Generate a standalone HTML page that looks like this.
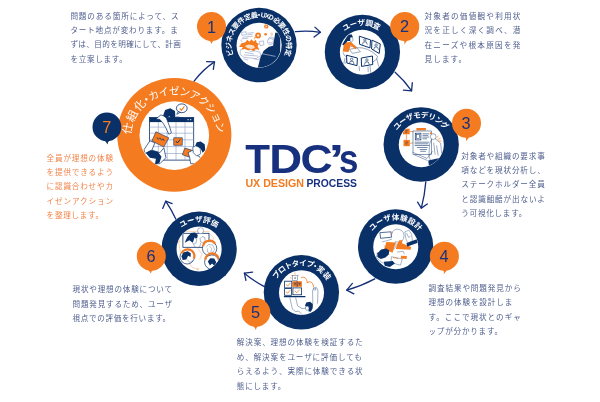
<!DOCTYPE html>
<html lang="ja"><head><meta charset="utf-8"><title>TDC's UX DESIGN PROCESS</title>
<style>html,body{margin:0;padding:0;background:#fff}body{width:600px;height:402px;overflow:hidden}svg{display:block;will-change:transform}text{font-family:"Liberation Sans", "Noto Sans CJK JP", sans-serif}</style></head><body>
<svg width="600" height="402" viewBox="0 0 600 402">
<rect width="600" height="402" fill="#fff"/>
<g fill="none" stroke="#142f78" stroke-width="1.3" stroke-linecap="round" stroke-linejoin="round">
<path d="M193.9,81.3 Q203.0,69.5 214.5,61.9"/>
<path d="M206.6,61.6 L214.5,61.9 L213.3,69.4"/>
<path d="M295.4,31.6 Q308.0,30.2 320.4,32.3"/>
<path d="M314.9,27.1 L320.4,32.3 L314.1,37.1"/>
<path d="M395.1,72.2 Q404.5,80.5 411.6,90.8"/>
<path d="M403.4,90.1 L411.6,90.8 L412.3,82.6"/>
<path d="M425.8,181.9 Q424.8,195.0 421.3,208.1"/>
<path d="M417.6,202.1 L421.3,208.1 L427.3,204.0"/>
<path d="M374.8,278.9 Q361.5,286.0 346.7,290.1"/>
<path d="M352.4,283.4 L346.7,290.1 L353.9,293.8"/>
<path d="M265.3,287.1 Q254.0,281.5 244.4,273.2"/>
<path d="M252.6,272.2 L244.4,273.2 L245.9,280.4"/>
<path d="M175.8,219.1 Q171.5,209.8 165.7,201.2"/>
<path d="M162.7,208.4 L165.7,201.2 L172.1,203.6"/>
</g>
<ellipse cx="259.0" cy="45.1" rx="37.65" ry="37.25" fill="#0a3068"/>
<ellipse cx="259.1" cy="45.3" rx="22.55" ry="22.45" fill="#fff"/>
<ellipse cx="362.4" cy="52.1" rx="37.65" ry="37.25" fill="#0a3068"/>
<ellipse cx="362.4" cy="52.2" rx="22.55" ry="22.45" fill="#fff"/>
<ellipse cx="421.2" cy="144.5" rx="37.65" ry="37.25" fill="#0a3068"/>
<ellipse cx="421.3" cy="144.7" rx="22.55" ry="22.45" fill="#fff"/>
<ellipse cx="395.65" cy="246.6" rx="37.65" ry="37.25" fill="#0a3068"/>
<ellipse cx="395.75" cy="246.8" rx="22.55" ry="22.45" fill="#fff"/>
<ellipse cx="301.4" cy="292.3" rx="37.65" ry="37.25" fill="#0a3068"/>
<ellipse cx="301.5" cy="292.6" rx="22.55" ry="22.45" fill="#fff"/>
<ellipse cx="199.1" cy="248.8" rx="37.65" ry="37.25" fill="#0a3068"/>
<ellipse cx="199.1" cy="249.0" rx="22.55" ry="22.45" fill="#fff"/>
<ellipse cx="174.3" cy="134.85" rx="57.1" ry="56.95" fill="#f47b20"/>
<ellipse cx="174.3" cy="135.6" rx="34.8" ry="34.3" fill="#fff"/>
<defs>
<clipPath id="cl1"><circle cx="259.1" cy="45.3" r="22.2"/></clipPath>
<clipPath id="cl2"><circle cx="362.4" cy="52.2" r="22.2"/></clipPath>
<clipPath id="cl3"><circle cx="421.3" cy="144.7" r="22.2"/></clipPath>
<clipPath id="cl4"><circle cx="395.75" cy="246.8" r="22.2"/></clipPath>
<clipPath id="cl5"><circle cx="301.5" cy="292.6" r="22.2"/></clipPath>
<clipPath id="cl6"><circle cx="199.1" cy="249.0" r="22.2"/></clipPath>
<clipPath id="cl7"><circle cx="174.3" cy="135.6" r="34.2"/></clipPath>
</defs>
<g clip-path="url(#cl1)">
<g fill="none" stroke="#8c9cc6" stroke-width="0.6">
<path d="M241.5,32.5 L246.0,31.7 L246.4,34.6 L241.9,35.3Z"/>
<path d="M247.3,33.3 L253.8,32.6 M247.3,34.9 L252.7,34.2 M242.4,37.3 L252.7,36.2 M241.5,38.9 L248.2,38.2 M240.4,39.8 L242.4,42.0"/>
<path d="M240.4,49.9 L243.2,47.9 L247.6,49.0 L250.4,51.6 L254.9,50.8 L260.0,52.3 L260.7,55.7 L256.0,58.6 L249.3,57.9 L243.7,57.2 L240.1,54.4Z"/>
<path d="M244.8,52.3 L253.8,54.1 M243.9,54.9 L257.7,56.0 M253.8,58.6 L258.8,60.0 L260.1,57.9 M243.7,58.8 L248.2,60.0"/>
<path d="M259.4,41.5 L263.4,40.9 L263.9,44.9 L260.1,45.6Z"/>
<circle cx="270.6" cy="41.5" r="3.1" fill="#fff"/>
<path d="M268.1,39.2 L270.0,37.0 L273.4,37.8 L274.2,40.9 M268.9,42.0 L271.2,43.2 L272.6,41.5"/>
</g>
<path d="M257.7,68.0 L260.7,56.6 L263.7,50.8 L268.9,46.7 L273.1,45.7 L275.3,32.6 L280.4,33.5 L280.2,51.0 L278.9,60.0 L276.4,68.0Z" fill="#0a3068"/>
<path d="M261.1,53.5 L275.6,56.4" stroke="#fff" stroke-width="0.5" fill="none"/>
<path d="M239.0,47.1 L241.5,43.2 L245.4,42.3 L247.3,39.8 L249.5,41.8 L251.3,39.3 L253.6,41.5 L256.0,39.8 L256.7,42.9 L258.9,43.4 L257.6,46.3 L259.4,49.9 L255.8,49.0 L253.8,51.2 L250.7,49.4 L247.8,50.3 L244.8,49.0 L241.5,49.7 L242.8,47.0Z" fill="#f47b20"/>
<path d="M244.8,46.0 L248.8,44.5 L253.8,45.4 L254.9,47.9 L251.6,49.0 L247.6,48.3Z" fill="#fde0c8"/>
<path d="M255.8,37.6 L253.8,39.8 L254.9,36.2Z" fill="#f47b20"/>
<circle cx="258.1" cy="35.5" r="2.9" fill="#f47b20"/><circle cx="258.1" cy="35.5" r="1.2" fill="#fde0c8"/>
<circle cx="266.3" cy="26.4" r="2.2" fill="#f47b20"/><circle cx="266.3" cy="26.4" r="0.9" fill="#fde0c8"/>
<circle cx="265.6" cy="34.2" r="1.3" fill="#f47b20"/>
<path d="M271.9,32.5 L272.4,35.3 M270.6,33.3 L271.5,35.5" stroke="#f47b20" stroke-width="0.5" fill="none"/>
</g>
<g clip-path="url(#cl2)">
<g fill="none" stroke="#0a3068" stroke-width="0.55" stroke-opacity="0.75">
<path d="M356.8,47.7 Q368.0,46.8 377.5,56.3 Q378.1,59.3 373.0,61.9"/>
<path d="M343.1,52.4 Q343.9,56.3 346.7,56.9"/>
<path d="M345.0,58.0 L343.7,64.2 M346.7,59.3 L345.6,63.6 M370.0,65.8 L370.8,73.1 M368.0,66.4 L368.2,72.0 M376.7,58.6 L378.7,66.4 M359.0,65.8 L359.6,70.9"/>
<path d="M349.5,49.3 L356.8,47.9 L360.4,51.8 L352.3,53.3Z"/>
<path d="M350.6,46.8 L355.1,45.7 L356.8,47.9"/>
</g>
<path d="M346.7,36.9 L348.7,34.5 L351.9,34.5 L352.8,37.2 L350.5,37.6 L349.9,41.0 L347.4,41.0 L344.7,45.9 L342.2,44.6 L344.9,40.1Z" fill="#0a3068"/>
<path d="M350.3,37.4 L352.5,37.2 L353.0,40.3 L351.6,42.1 L350.1,41.2Z" fill="#fff" stroke="#0a3068" stroke-width="0.4"/>
<path d="M342.7,51.5 L343.8,44.8 L346.7,42.3 L351.2,42.1 L357.0,47.9 L355.2,49.3 L350.8,45.2 L348.5,51.9Z" fill="#f47b20"/>
<g fill="#fff" stroke="#0a3068" stroke-width="1.0" stroke-linejoin="round">
<path d="M359.3,36.2 L370.5,39.9 L370.0,47.9 L359.6,44.3Z"/>
<path d="M371.9,40.1 L380.3,44.0 L379.2,53.5 L371.6,49.0Z"/>
<path d="M346.5,55.2 L357.4,58.0 L357.0,65.6 L346.9,63.0Z"/>
<path d="M361.3,58.0 L372.5,56.0 L372.7,64.5 L361.5,66.4Z"/>
</g>
<g fill="none" stroke="#0a3068" stroke-width="0.6">
<circle cx="364.9" cy="39.9" r="1.2"/>
<path d="M362.4,44.6 L363.4,41.9 L366.3,41.9 L367.3,44.6"/>
<circle cx="376.1" cy="45.1" r="1.2"/>
<path d="M373.6,49.8 L374.6,47.1 L377.5,47.1 L378.5,49.8"/>
<circle cx="351.6" cy="59.3" r="1.2"/>
<path d="M349.2,64.0 L350.2,61.4 L353.1,61.4 L354.1,64.0"/>
<circle cx="366.9" cy="60.0" r="1.2"/>
<path d="M364.4,64.7 L365.4,62.0 L368.3,62.0 L369.3,64.7"/>
</g>
</g>
<g clip-path="url(#cl3)">
<rect x="403.0" y="128.7" width="6.7" height="5.6" fill="#f47b20"/><rect x="403.5" y="139.9" width="6.3" height="6.3" fill="#f47b20"/><rect x="416.4" y="128.0" width="9.5" height="2.4" fill="#f47b20"/>
<path d="M406.4,134.3 L406.4,139.9 M409.8,131.5 L413.3,131.5 L413.3,133.2 M409.8,143.1 L413.0,143.1" stroke="#f47b20" stroke-width="0.7" fill="none"/>
<path d="M405.2,130.7 L407.7,130.7 M405.2,132.3 L407.1,132.3 M405.3,142.2 L408.0,142.2 M405.3,143.9 L407.5,143.9" stroke="#0a3068" stroke-width="0.5" fill="none"/>
<rect x="413.0" y="131.0" width="18.3" height="23.3" fill="#fff" stroke="#0a3068" stroke-width="0.6" stroke-opacity="0.8"/>
<rect x="415.3" y="133.2" width="5.6" height="6.7" fill="none" stroke="#0a3068" stroke-width="0.7"/>
<rect x="416.7" y="134.5" width="2.9" height="4.0" fill="none" stroke="#0a3068" stroke-width="0.5"/>
<g fill="none" stroke="#0a3068" stroke-width="0.7" stroke-opacity="0.8">
<path d="M422.5,133.8 L429.2,133.8 M422.5,135.4 L428.3,135.4 M422.5,137.1 L429.2,137.1 M422.5,138.8 L427.0,138.8 M414.7,142.2 L429.2,142.2 M414.7,143.8 L428.3,143.8 M414.7,145.5 L429.2,145.5 M416.9,147.5 L427.6,147.5 M419.7,149.5 L427.0,149.5 M420.3,151.3 L425.9,151.3"/>
</g>
<g fill="none" stroke="#0a3068" stroke-width="0.55" stroke-opacity="0.75">
<circle cx="433.2" cy="136.6" r="2.9" fill="#fff"/>
<path d="M431.5,139.4 L429.5,144.4 L429.0,155.6 L430.4,160.6 M435.4,138.8 L440.7,143.3 L441.8,155.6 L440.4,160.6 M412.4,152.2 L427.0,158.4 L432.6,151.3 M414.1,154.7 L427.6,160.6 M433.7,142.7 L435.1,154.5 M436.5,145.5 L438.2,155.6"/>
</g>
<path d="M428.3,160.6 L439.5,158.1 L441.6,167.0 L429.0,167.0Z" fill="#0a3068"/>
<path d="M430.4,131.9 L432.4,133.9 L429.7,134.3Z" fill="#f47b20"/>
<path d="M436.5,137.7 L438.4,136.0 M437.6,139.4 L440.7,138.2 M438.2,141.0 L441.6,141.0" stroke="#f47b20" stroke-width="0.6" fill="none"/>
</g>
<g clip-path="url(#cl4)">
<g fill="none" stroke="#0a3068" stroke-width="0.5" stroke-opacity="0.7">
<path d="M391.5,234.6 q2,-7 8,-5 q6,2 4,9 q-2,5 -8,3 q2,6 -3,8 q-6,1 -8,-4"/>
<path d="M404.9,231.8 L408.8,230.2 L411.6,234.1 L412.4,240.8 L407.7,243.0 L405.7,238.0Z"/>
<path d="M406.6,233.0 L408.6,237.4 L410.5,236.3"/>
<path d="M391.5,256.7 L402.3,258.9 L400.4,265.2 L390.9,262.6Z"/>
<path d="M377.5,252.0 L376.4,257.6 L382.0,262.6 L387.6,264.3 M382.0,241.9 L386.4,240.8 L392.0,239.1 M397.1,252.0 L403.2,251.4 L404.4,254.2"/>
</g>
<path d="M379.9,232.7 L390.9,231.8 L391.5,237.2 L380.6,238.3Z" fill="#fff" stroke="#0a3068" stroke-width="0.7" stroke-linejoin="round"/>
<circle cx="392.0" cy="232.1" r="0.7" fill="#f47b20"/>
<path d="M386.4,242.1 L395.8,242.4 L392.5,252.7 L384.2,248.9Z" fill="#f47b20"/>
<path d="M399.3,240.2 L402.6,240.2 L401.9,243.3 L411.1,247.1 L410.6,249.8 L395.8,248.9 L397.0,244.4Z" fill="#f47b20"/>
<path d="M401.0,255.8 L406.8,256.1 L406.6,258.9 L400.8,258.5Z" fill="#f47b20"/>
<path d="M392.9,257.6 L398.2,258.5" stroke="#f47b20" stroke-width="0.7" fill="none"/>
<path d="M377.5,253.3 L381.1,249.5 L386.2,248.4 L389.3,250.4 L388.7,254.5 L385.5,257.6 L380.8,258.9 L377.3,257.1Z" fill="#0a3068"/>
<path d="M406.4,243.3 L418.0,238.8 L418.0,242.8 L407.3,246.4Z" fill="#0a3068"/>
<path d="M383.8,261.8 L392.7,261.0 L394.9,263.4 L389.8,267.0 L384.6,265.7Z" fill="#0a3068"/>
</g>
<g clip-path="url(#cl5)">
<g fill="none" stroke="#0a3068" stroke-width="0.55" stroke-opacity="0.7">
<rect x="292.7" y="275.6" width="4.9" height="4.9"/>
<path d="M294.0,278.1 L296.2,278.1 M295.1,276.9 L295.1,279.2"/>
<path d="M289.8,297.5 L292.4,309.2 L295.8,311.7 L298.7,311.0 M295.6,297.5 L297.6,305.8 L302.0,308.6 M312.8,303.6 L312.6,290.7 L313.7,287.9 L316.6,287.7 L318.0,290.7 L317.5,303.6 M313.9,287.9 L314.2,290.7 M315.5,287.7 L315.7,290.6 M298.7,311.0 L302.5,315.0 M302.0,308.6 L305.9,308.1 M312.6,303.6 L312.1,308.1"/>
</g>
<rect x="292.4" y="281.2" width="9.5" height="5.6" fill="#f47b20"/>
<path d="M293.8,283.2 L296.0,283.2 M298.3,283.2 L300.7,283.2 M294.5,284.8 L295.6,284.8 M298.9,284.8 L300.3,284.8 M297.1,281.2 L297.1,286.8" stroke="#0a3068" stroke-width="0.7" fill="none"/>
<g fill="none" stroke="#0a3068" stroke-width="0.8">
<rect x="284.6" y="281.2" width="7.2" height="6.7"/><rect x="284.6" y="288.6" width="6.9" height="6.7"/><rect x="292.9" y="287.9" width="8.7" height="6.9"/>
<path d="M283.9,296.7 L305.4,296.7" stroke-width="1.2"/>
</g>
<g fill="none" stroke="#f47b20" stroke-width="0.8">
<path d="M286.2,284.3 L287.7,286.1 L290.4,283.0 M285.9,291.5 L287.5,293.3 L290.2,290.2 M294.7,290.8 L296.7,292.8 L299.8,289.5"/>
<path d="M300.9,277.8 q5.5,-2.5 6.5,5"/>
<path d="M306.8,282.8 q5.5,-3.5 7,4.5"/>
<path d="M291.1,274.7 L292.2,276.0 M294.9,272.5 L294.9,274.5 M298.9,274.7 L297.8,276.0 M290.2,277.8 L291.8,278.1" stroke-width="0.6"/>
</g>
<path d="M305.0,305.6 L306.3,302.5 L310.1,301.8 L312.8,304.0 L312.6,308.6 L310.8,311.7 L308.3,311.2 L309.2,307.6 L306.8,307.2Z" fill="#0a3068"/>
<path d="M305.7,306.4 L308.3,306.1 L309.0,309.2 L307.0,310.5 L305.4,309.2Z" fill="#fff" stroke="#0a3068" stroke-width="0.4"/>
</g>
<g clip-path="url(#cl6)">
<g fill="none" stroke="#f9b98a" stroke-width="0.6">
<path d="M178.2,240.6 L180.5,251.8 L191.7,266.9 L198.4,269.7 M209.6,233.8 L213.5,237.8 L212.1,241.7 M197.8,248.4 L202.0,254.0 L199.7,259.6 M184.4,231.4 L209.6,231.4"/>
<circle cx="197.8" cy="269.1" r="0.9"/><circle cx="179.4" cy="241.1" r="0.7"/>
</g>
<rect x="182.9" y="233.3" width="26.1" height="14.0" fill="#fff" stroke="#0a3068" stroke-width="0.8"/>
<circle cx="200.6" cy="230.7" r="3.0" fill="#fff" stroke="#0a3068" stroke-width="0.5" stroke-opacity="0.7"/>
<path d="M184.7,242.8 L187.2,237.2 L191.1,232.9 L195.0,232.5 L197.8,235.0 L197.1,238.5 L194.5,237.6 L192.8,242.8 L189.4,240.3Z" fill="#0a3068"/>
<g fill="none" stroke="#0a3068" stroke-width="0.5" stroke-opacity="0.7">
<path d="M192.8,242.8 L195.0,247.1 M194.5,237.6 L196.7,239.4 L196.2,242.8 L193.9,243.9 M200.1,238.5 L202.0,236.6 L204.9,237.4 L205.1,241.1 L202.7,242.8 L200.6,241.7Z M200.9,242.8 L199.5,247.1 M204.6,242.8 L206.2,247.1"/>
</g>
<circle cx="187.2" cy="256.8" r="7.2" fill="#fff" stroke="#0a3068" stroke-width="0.7"/>
<circle cx="209.6" cy="248.4" r="7.2" fill="#fff" stroke="#0a3068" stroke-width="0.7"/>
<circle cx="211.8" cy="262.1" r="7.2" fill="#fff" stroke="#0a3068" stroke-width="0.7"/>
<g fill="none" stroke="#f47b20" stroke-width="2.2">
<path d="M181.6,253.4 A6.5,6.5 0 0 1 193.9,258.5"/>
<path d="M203.1,246.2 A6.5,6.5 0 0 1 215.2,243.9"/>
<path d="M205.3,259.6 A6.5,6.5 0 0 1 218.8,260.7"/>
</g>
<path d="M181.4,256.2 L183.4,252.4 L187.6,251.3 L190.8,253.3 L190.6,257.1 L188.1,255.8 L186.3,259.6 L182.7,260.0Z" fill="#0a3068"/>
<path d="M207.8,261.6 L210.3,258.3 L214.3,258.5 L216.3,262.5 L214.5,266.1 L212.1,263.4 L210.0,265.4Z" fill="#0a3068"/>
<g fill="none" stroke="#0a3068" stroke-width="0.5" stroke-opacity="0.6">
<path d="M206.0,247.3 L208.5,244.5 L212.7,245.0 L214.7,249.3 L212.5,252.7 M207.8,248.4 L207.1,251.5 L209.6,252.9 M209.6,246.2 L211.6,248.4 L210.9,252.0 M187.2,259.6 L189.7,262.5 L192.8,260.5"/>
</g>
</g>
<g clip-path="url(#cl7)">
<rect x="149.5" y="117.5" width="44.2" height="42.6" fill="#fff" stroke="#0a3068" stroke-width="0.8"/>
<rect x="149.5" y="117.5" width="44.2" height="4.6" fill="#0a3068"/>
<circle cx="188.1" cy="119.7" r="0.6" fill="#fff"/><circle cx="190.7" cy="119.7" r="0.6" fill="#fff"/>
<g fill="none" stroke="#8c9cc6" stroke-width="0.6">
<path d="M149.5,127.1 L193.7,127.1 M149.5,133.2 L193.7,133.2 M149.5,139.8 L193.7,139.8 M149.5,146.6 L193.7,146.6 M149.5,153.5 L193.7,153.5 M158.3,122.1 L158.3,160.1 M167.2,122.1 L167.2,160.1 M176.0,122.1 L176.0,160.1 M185.0,122.1 L185.0,160.1"/>
</g>
<ellipse cx="181.8" cy="108.3" rx="5.4" ry="4.4" fill="#fff" stroke="#0a3068" stroke-width="0.8"/>
<path d="M178.2,111.5 L176.8,114.3 L180.2,112.3Z" fill="#fff" stroke="#0a3068" stroke-width="0.7"/>
<path d="M179.8,108.3 L181.4,110.3 L184.4,106.4" fill="none" stroke="#f47b20" stroke-width="1.1"/>
<path d="M155.9,118.9 L160.9,114.9 L165.9,116.9 L169.4,125.9 L171.4,132.8 L168.8,134.2 L165.9,127.9 L162.9,122.9 L159.9,119.5Z" fill="#fff" stroke="#0a3068" stroke-width="0.7"/>
<path d="M163.1,115.5 L165.1,109.9 L170.2,108.3 L175.0,111.1 L175.4,117.5 L171.8,118.7 L169.4,116.3 L166.2,118.3Z" fill="#0a3068"/>
<path d="M172.8,119.9 L176.8,116.9 L182.8,117.9 L184.8,121.9" fill="none" stroke="#0a3068" stroke-width="0.7"/>
<path d="M155.9,131.8 L168.8,137.8 L163.9,147.0 L151.9,141.0Z" fill="#f47b20" stroke="#0a3068" stroke-width="0.6"/>
<path d="M156.9,137.4 L158.3,139.4 L159.9,137.8 L161.5,140.2 L163.1,138.8 L164.3,141.0" fill="none" stroke="#0a3068" stroke-width="0.7"/>
<rect x="173.8" y="137.8" width="8.4" height="7.4" fill="#f47b20" stroke="#0a3068" stroke-width="0.6"/>
<path d="M175.8,141.0 L177.4,143.0 L180.2,139.4" fill="none" stroke="#0a3068" stroke-width="0.9"/>
<path d="M184.8,148.1 L191.7,150.1 L189.7,157.3 L182.4,154.7Z" fill="#f47b20" stroke="#0a3068" stroke-width="0.6"/>
<path d="M144.0,149.7 L149.9,140.8 L154.9,142.8 L151.9,150.1 L159.9,152.7 L163.9,147.8 L165.9,157.7 L159.9,163.7 L147.9,163.7Z" fill="#fff" stroke="#0a3068" stroke-width="0.7"/>
<path d="M145.6,152.7 L150.9,150.1 L157.9,151.7 L161.5,156.7 L159.5,162.7 L154.9,164.7 L155.9,158.7 L149.9,157.7Z" fill="#0a3068"/>
<path d="M188.1,152.7 L192.7,150.1 L195.7,154.7 L199.7,156.7 L202.7,163.7 L190.7,163.7 L189.7,157.7Z" fill="#fff" stroke="#0a3068" stroke-width="0.7"/>
<path d="M192.7,147.4 L195.7,145.8 L200.1,147.8 L200.7,153.7 L196.7,156.1 L193.3,152.7Z" fill="#fff" stroke="#0a3068" stroke-width="0.6"/>
<path d="M195.3,145.8 L196.7,142.2 L200.7,141.4 L204.7,144.2 L205.3,150.1 L202.7,152.7 L200.7,148.7 L198.1,146.8Z" fill="#0a3068"/>
</g>
<circle cx="211.5" cy="26.4" r="14.5" fill="#f47b20"/>
<path d="M209.1,40.0 Q210.5,41.5 211.7,44.0 Q211.9,41.7 213.9,39.9 Z" fill="#f47b20"/>
<text x="211.62" y="32.51" text-anchor="middle" font-size="16.3" fill="#17317f">1</text>
<circle cx="404.75" cy="26.5" r="14.5" fill="#f47b20"/>
<path d="M408.0,39.6 Q406.2,41.9 404.2,44.4 Q405.1,41.6 403.4,40.4 Z" fill="#f47b20"/>
<text x="404.55" y="32.26" text-anchor="middle" font-size="16.3" fill="#17317f">2</text>
<circle cx="466.5" cy="123.3" r="14.5" fill="#f47b20"/>
<path d="M469.7,136.4 Q467.9,138.7 465.9,141.2 Q466.8,138.4 465.1,137.2 Z" fill="#f47b20"/>
<text x="466.15" y="128.61" text-anchor="middle" font-size="16.3" fill="#17317f">3</text>
<circle cx="444.4" cy="256.3" r="14.5" fill="#f47b20"/>
<path d="M447.5,269.4 Q445.7,271.7 443.7,274.2 Q444.6,271.4 442.9,270.2 Z" fill="#f47b20"/>
<text x="444.15" y="261.95" text-anchor="middle" font-size="16.3" fill="#17317f">4</text>
<circle cx="255.9" cy="312.4" r="14.4" fill="#f47b20"/>
<path d="M253.3,325.9 Q254.7,327.4 255.9,330.0 Q256.1,327.6 258.1,325.8 Z" fill="#f47b20"/>
<text x="255.65" y="317.95" text-anchor="middle" font-size="16.3" fill="#17317f">5</text>
<circle cx="151.3" cy="256.3" r="14.5" fill="#f47b20"/>
<path d="M148.3,269.9 Q149.7,271.4 150.9,273.6 Q151.1,271.6 153.1,269.8 Z" fill="#f47b20"/>
<text x="151.00" y="261.61" text-anchor="middle" font-size="16.3" fill="#17317f">6</text>
<circle cx="106.9" cy="126.9" r="14.4" fill="#0a3068"/>
<path d="M104.8,140.4 Q106.2,141.9 107.4,144.6 Q107.6,142.1 109.6,140.3 Z" fill="#0a3068"/>
<text x="106.80" y="132.71" text-anchor="middle" font-size="16.3" fill="#f47b20">7</text>
<text font-size="7.1" font-weight="700" fill="#fff" x="233.45 231.61 231.37 232.73 235.62 239.87 245.23 251.38 255.45 260.45 264.50 268.09 272.41 277.83 282.15 285.13 286.59 286.45" y="55.57 49.14 42.46 35.92 29.89 24.73 20.73 18.14 17.30 16.98 17.50 18.46 20.53 24.44 29.54 35.52 42.05 48.73" rotate="-105.5 -91.7 -77.8 -64.0 -50.1 -36.3 -22.4 -8.6 0.0 8.0 16.1 24.1 36.3 50.1 64.0 77.8 91.7 105.5">ビジネス要件定義・<tspan font-size="6.8">UXD</tspan>必要性の特定</text>
<text font-size="7.6" font-weight="700" fill="#fff" x="344.19 350.51 357.55 364.88 372.07" y="31.37 27.63 25.54 25.25 26.76" rotate="-30.4 -16.2 -2.0 12.1 26.3">ユーザ調査</text>
<text font-size="7.6" font-weight="700" fill="#fff" x="396.73 401.36 407.09 413.60 420.54 427.51 434.13 440.03" y="130.38 125.13 121.10 118.53 117.55 118.22 120.50 124.26" rotate="-48.0 -34.5 -21.0 -7.5 6.1 19.6 33.1 46.6">ユーザモデリング</text>
<text font-size="7.6" font-weight="700" fill="#fff" x="372.16 377.65 384.36 391.82 399.55 407.01 413.71" y="231.14 225.71 221.87 219.89 219.90 221.90 225.75" rotate="-44.8 -29.9 -15.0 -0.1 14.9 29.8 44.7">ユーザ体験設計</text>
<text font-size="7.6" font-weight="700" fill="#fff" x="276.28 280.58 286.00 292.26 299.02 305.91 310.61 315.97 322.52" y="279.52 274.12 269.87 266.99 265.64 265.89 267.01 269.39 274.42" rotate="-50.8 -37.4 -24.0 -10.6 2.8 16.2 25.5 36.9 53.0">プロトタイプ・実装</text>
<text font-size="7.6" font-weight="700" fill="#fff" x="181.18 187.74 195.04 202.60 209.94" y="227.85 224.10 222.12 222.05 223.89" rotate="-29.7 -15.1 -0.5 14.1 28.7">ユーザ評価</text>
<text font-size="11.3" font-weight="400" fill="#fff" x="130.45 133.04 138.80 144.21 150.73 159.56 169.12 178.94 188.52 197.39 205.10 211.26 215.57" y="134.75 122.85 112.12 106.01 101.02 96.72 94.49 94.44 96.57 100.78 106.86 114.51 123.33" rotate="-78.3 -62.4 -46.4 -35.8 -25.6 -12.8 0.1 12.9 25.8 38.6 51.5 64.3 77.2">仕組化・<tspan font-size="10.4">カイゼンアクション</tspan></text>
<text y="172.9" font-size="40.5" font-weight="700" fill="#17317f"><tspan x="245.2">T</tspan><tspan x="269.2" textLength="32.9" lengthAdjust="spacingAndGlyphs">D</tspan><tspan x="300.4" textLength="32.2" lengthAdjust="spacingAndGlyphs">C</tspan><tspan x="328.6" textLength="15.8" lengthAdjust="spacingAndGlyphs">’</tspan><tspan x="339.0" textLength="19.4" lengthAdjust="spacingAndGlyphs">s</tspan></text>
<text y="186.7" font-size="10.7" font-weight="700"><tspan x="245.4" fill="#f47b20" textLength="58.6" lengthAdjust="spacingAndGlyphs">UX DESIGN</tspan><tspan x="306.4" fill="#17317f" textLength="50.6" lengthAdjust="spacingAndGlyphs">PROCESS</tspan></text>
<text font-size="7.6" font-weight="400" fill="#505f8e">
<tspan x="70.4" y="18.5" textLength="108.2" lengthAdjust="spacing">問題のある箇所によって、ス</tspan>
<tspan x="70.4" y="33.0" textLength="107.4" lengthAdjust="spacing">タート地点が変わります。ま</tspan>
<tspan x="70.4" y="47.4" textLength="110.5" lengthAdjust="spacing">ずは、目的を明確にして、計画</tspan>
<tspan x="70.4" y="61.9" letter-spacing="0.68">を立案します。</tspan>
</text>
<text font-size="7.6" font-weight="400" fill="#505f8e">
<tspan x="424.5" y="18.8" textLength="95.9" lengthAdjust="spacing">対象者の価値観や利用状</tspan>
<tspan x="424.5" y="33.1" textLength="95.9" lengthAdjust="spacing">況を正しく深く調べ、潜</tspan>
<tspan x="424.5" y="47.5" textLength="95.9" lengthAdjust="spacing">在ニーズや根本原因を発</tspan>
<tspan x="424.5" y="61.9" letter-spacing="1.1">見します。</tspan>
</text>
<text font-size="7.6" font-weight="400" fill="#505f8e">
<tspan x="461.3" y="158.5" textLength="83.5" lengthAdjust="spacing">対象者や組織の要求事</tspan>
<tspan x="461.3" y="172.9" textLength="83.5" lengthAdjust="spacing">項などを現状分析し、</tspan>
<tspan x="461.3" y="187.2" textLength="83.5" lengthAdjust="spacing">ステークホルダー全員</tspan>
<tspan x="461.3" y="201.5" textLength="83.5" lengthAdjust="spacing">と認識齟齬が出ないよ</tspan>
<tspan x="461.3" y="215.9" letter-spacing="0.72">う可視化します。</tspan>
</text>
<text font-size="7.6" font-weight="400" fill="#505f8e">
<tspan x="428.5" y="290.8" textLength="92.3" lengthAdjust="spacing">調査結果や問題発見から</tspan>
<tspan x="428.5" y="305.2" textLength="83.9" lengthAdjust="spacing">理想の体験を設計しま</tspan>
<tspan x="428.5" y="319.6" textLength="92.3" lengthAdjust="spacing">す。ここで現状とのギャ</tspan>
<tspan x="428.5" y="334.0" letter-spacing="0.76">ップが分かります。</tspan>
</text>
<text font-size="7.6" font-weight="400" fill="#505f8e">
<tspan x="236.8" y="345.4" textLength="125.9" lengthAdjust="spacing">解決案、理想の体験を検証するた</tspan>
<tspan x="236.8" y="359.8" textLength="125.0" lengthAdjust="spacing">め、解決案をユーザに評価しても</tspan>
<tspan x="236.8" y="374.3" textLength="125.9" lengthAdjust="spacing">らえるよう、実際に体験できる状</tspan>
<tspan x="236.8" y="388.6" letter-spacing="0.74">態にします。</tspan>
</text>
<text font-size="7.6" font-weight="400" fill="#505f8e">
<tspan x="72.6" y="292.3" textLength="99.4" lengthAdjust="spacing">現状や理想の体験について</tspan>
<tspan x="72.6" y="306.5" textLength="99.6" lengthAdjust="spacing">問題発見するため、ユーザ</tspan>
<tspan x="72.6" y="320.7" letter-spacing="0.66">視点での評価を行います。</tspan>
</text>
<text font-size="7.6" font-weight="400" fill="#f2844a">
<tspan x="46.6" y="160.7" textLength="66.4" lengthAdjust="spacing">全員が理想の体験</tspan>
<tspan x="46.6" y="175.0" textLength="66.4" lengthAdjust="spacing">を提供できるよう</tspan>
<tspan x="46.6" y="189.3" textLength="66.4" lengthAdjust="spacing">に認識合わせやカ</tspan>
<tspan x="46.6" y="203.6" textLength="66.4" lengthAdjust="spacing">イゼンアクション</tspan>
<tspan x="46.6" y="217.9" letter-spacing="0.69">を整理します。</tspan>
</text>
</svg></body></html>
